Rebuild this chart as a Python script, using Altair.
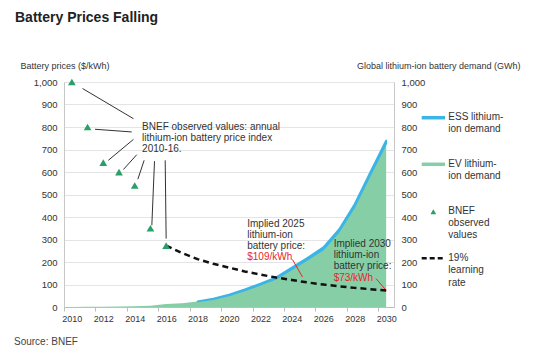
import altair as alt
import pandas as pd

# ---------------- data ----------------
years = list(range(2010, 2031))
# Global lithium-ion battery demand (GWh), top of stacked area (EV + ESS)
total_demand = [0.5, 1, 1.5, 2, 3, 6, 13, 17, 25, 37, 55, 78, 104, 132, 175, 219, 265, 345, 458, 600, 740]
# ESS part (thin band on top)
ess_demand = [0, 0, 0, 0, 0, 0, 0, 0, 0, 2, 3, 4, 5, 6, 7, 8, 9, 10, 11, 12, 14]

obs_years = [2010, 2011, 2012, 2013, 2014, 2015, 2016]
obs_price = [1000, 800, 642, 599, 540, 350, 273]

lr_years = list(range(2016, 2031))
lr_price = [273, 240, 213, 192, 175, 158, 144, 131, 120, 109, 100, 92, 85, 79, 73]

# leader lines for the "BNEF observed values" note (year / price units)
lead_x1 = [2010.68, 2011.47, 2012.32, 2013.28, 2014.20, 2015.26, 2015.94]
lead_y1 = [971, 790, 652, 611, 568, 648, 652]
lead_x2 = [2013.92, 2013.81, 2013.92, 2014.13, 2014.60, 2015.09, 2016.00]
lead_y2 = [837, 778, 745, 677, 652, 363, 304]

# red pointers for implied prices
red_x1 = [2024.04, 2029.36]
red_y1 = [211, 126]
red_x2 = [2024.68, 2030.00]
red_y2 = [133, 74]

note_text = ["BNEF observed values: annual\nlithium-ion battery price index\n2010-16.",
             "Implied 2025\nlithium-ion\nbattery price:",
             "Implied 2030\nlithium-ion\nbattery price:"]
note_year = [2014.47, 2021.16, 2026.66]
note_price = [823, 393, 304]

red_text = ["$109/kWh", "$73/kWh"]
red_year = [2021.16, 2026.66]
red_price = [222, 131]

x_tick_pos = [2009.5 + 2 * i for i in range(11)]
x_label_years = list(range(2010, 2031, 2))
y_ticks = list(range(0, 1001, 100))

legend_labels = ["ESS lithium-\nion demand", "EV lithium-\nion demand", "BNEF\nobserved\nvalues", "19%\nlearning\nrate"]

# ---------------- styles ----------------
GREEN = "#86CEA6"
BLUE = "#3BB4E6"
TRI = "#28A068"
RED = "#E8262B"
TXT = "#333333"
FONT = "Liberation Sans"

demand_df = pd.DataFrame({"year": years, "total": total_demand, "ess": ess_demand})
obs_df = pd.DataFrame({"year": obs_years, "price": obs_price})
lr_df = pd.DataFrame({"year": lr_years, "price": lr_price})
lead_df = pd.DataFrame({"x1": lead_x1, "y1": lead_y1, "x2": lead_x2, "y2": lead_y2})
red_df = pd.DataFrame({"x1": red_x1, "y1": red_y1, "x2": red_x2, "y2": red_y2})
note_df = pd.DataFrame({"year": note_year, "price": note_price, "t": note_text})
rednote_df = pd.DataFrame({"year": red_year, "price": red_price, "t": red_text})
one = pd.DataFrame({"k": [0]})

xscale = alt.Scale(domain=[2009.5, 2030.5], nice=False, zero=False)
yscale_p = alt.Scale(domain=[0, 1000], nice=False)
yscale_d = alt.Scale(domain=[0, 1000], nice=False)

x_axis = alt.Axis(
    values=sorted(x_tick_pos + x_label_years),
    labelExpr="datum.value % 2 == 0 ? format(datum.value, 'd') : ''",
    tickOpacity={"condition": {"test": "datum.value % 2 == 0", "value": 0}, "value": 1},
    grid=False, domainColor="#bdbdbd", tickColor="#bdbdbd", tickSize=4,
    labelPadding=3, labelFontSize=9, labelColor=TXT, labelFont=FONT,
    labelOverlap=False, labelFlush=False, title=None,
)

left_axis = alt.Axis(
    orient="left", values=y_ticks, format=",d", grid=True, gridColor="#e4e4e4",
    domainColor="#c8c8c8", ticks=False, labelPadding=7, labelFontSize=9.5,
    labelColor=TXT, labelFont=FONT,
    title="Battery prices ($/kWh)", titleAngle=0, titleAlign="left",
    titleBaseline="middle", titleX=-44, titleY=-17, titleFontSize=9,
    titleFontWeight="normal", titleColor=TXT, titleFont=FONT,
)

right_axis = alt.Axis(
    orient="right", values=y_ticks, format=",d", grid=False,
    domainColor="#c8c8c8", ticks=False, labelPadding=7, labelFontSize=9.5,
    labelColor=TXT, labelFont=FONT,
    title="Global lithium-ion battery demand (GWh)", titleAngle=0, titleAlign="right",
    titleBaseline="middle", titleX=126, titleY=-17, titleFontSize=9,
    titleFontWeight="normal", titleColor=TXT, titleFont=FONT,
)


def X(f):
    return alt.X(f, type="quantitative", scale=xscale, axis=x_axis)


def YP(f):
    return alt.Y(f, type="quantitative", scale=yscale_p, axis=left_axis)


def YD(f):
    return alt.Y(f, type="quantitative", scale=yscale_d, axis=right_axis)


# ---------------- demand (right axis) ----------------
ev_area = alt.Chart(demand_df).transform_calculate(
    ev="datum.total - datum.ess"
).mark_area(color=GREEN, opacity=1).encode(x=X("year"), y=YD("ev"))

ess_area = alt.Chart(demand_df).transform_filter(
    "datum.year >= 2018"
).transform_calculate(
    ev="datum.total - datum.ess"
).mark_area(color=BLUE, stroke=BLUE, strokeWidth=1.8, strokeJoin="round",
            opacity=1).encode(
    x=X("year"), y=YD("total"), y2=alt.Y2("ev")
)

demand_layer = alt.layer(ev_area, ess_area)

# ---------------- prices (left axis) ----------------
lead = alt.Chart(lead_df).mark_rule(color="#333333", strokeWidth=1).encode(
    x=X("x1"), y=YP("y1"), x2=alt.X2("x2"), y2=alt.Y2("y2")
)
red_lines = alt.Chart(red_df).mark_rule(color=RED, strokeWidth=1).encode(
    x=X("x1"), y=YP("y1"), x2=alt.X2("x2"), y2=alt.Y2("y2")
)
lr_line = alt.Chart(lr_df).mark_line(
    color="#111111", strokeDash=[6, 4], strokeWidth=2.5
).encode(x=X("year"), y=YP("price"))
tri = alt.Chart(obs_df).mark_point(
    shape="triangle-up", filled=True, size=60, color=TRI, opacity=1
).encode(x=X("year"), y=YP("price"))
notes = alt.Chart(note_df).mark_text(
    align="left", baseline="top", fontSize=10, lineHeight=11.3, color=TXT,
    font=FONT, lineBreak="\n"
).encode(x=X("year"), y=YP("price"), text="t:N")
rednotes = alt.Chart(rednote_df).mark_text(
    align="left", baseline="middle", fontSize=10, color=RED, font=FONT
).encode(x=X("year"), y=YP("price"), text="t:N")

price_layer = alt.layer(lead, red_lines, lr_line, tri, notes, rednotes)

# ---------------- legend, title, source ----------------
leg_text_y = [30, 77, 123.5, 171]
leg_items = []
leg_items.append(alt.Chart(one).mark_rule(color=BLUE, strokeWidth=3.5).encode(
    x=alt.value(357.7), x2=alt.value(381), y=alt.value(35.7)))
leg_items.append(alt.Chart(one).mark_rule(color=GREEN, strokeWidth=3.5).encode(
    x=alt.value(357.7), x2=alt.value(381), y=alt.value(82.3)))
leg_items.append(alt.Chart(one).mark_point(
    shape="triangle-up", filled=True, size=32, color=TRI, opacity=1).encode(
    x=alt.value(369.3), y=alt.value(129.7)))
leg_items.append(alt.Chart(one).mark_rule(
    color="#111111", strokeWidth=2.5, strokeDash=[5, 3]).encode(
    x=alt.value(357.7), x2=alt.value(380), y=alt.value(176.3)))
for lbl, ty in zip(legend_labels, leg_text_y):
    leg_items.append(alt.Chart(pd.DataFrame({"t": [lbl]})).mark_text(
        align="left", baseline="top", fontSize=10, lineHeight=12.3, color=TXT,
        font=FONT, lineBreak="\n").encode(
        x=alt.value(384.3), y=alt.value(ty), text="t:N"))

title = alt.Chart(pd.DataFrame({"t": ["Battery Prices Falling"]})).mark_text(
    align="left", baseline="middle", fontSize=14, fontWeight="bold",
    color="#222222", font=FONT).encode(x=alt.value(-49), y=alt.value(-64), text="t:N")
source = alt.Chart(pd.DataFrame({"t": ["Source: BNEF"]})).mark_text(
    align="left", baseline="middle", fontSize=10, color="#444444",
    font=FONT).encode(x=alt.value(-50), y=alt.value(260), text="t:N")

extras = alt.layer(*leg_items, title, source)

chart = alt.layer(demand_layer, price_layer, extras).resolve_scale(
    y="independent"
).properties(
    width=330, height=225,
    padding={"left": 64, "top": 82, "right": 147, "bottom": 50},
    autosize=alt.AutoSizeParams(type="none"),
    background="white",
).configure_view(stroke=None).configure(font=FONT)

chart.save("out.html", embed_options={"renderer": "svg", "actions": False})
